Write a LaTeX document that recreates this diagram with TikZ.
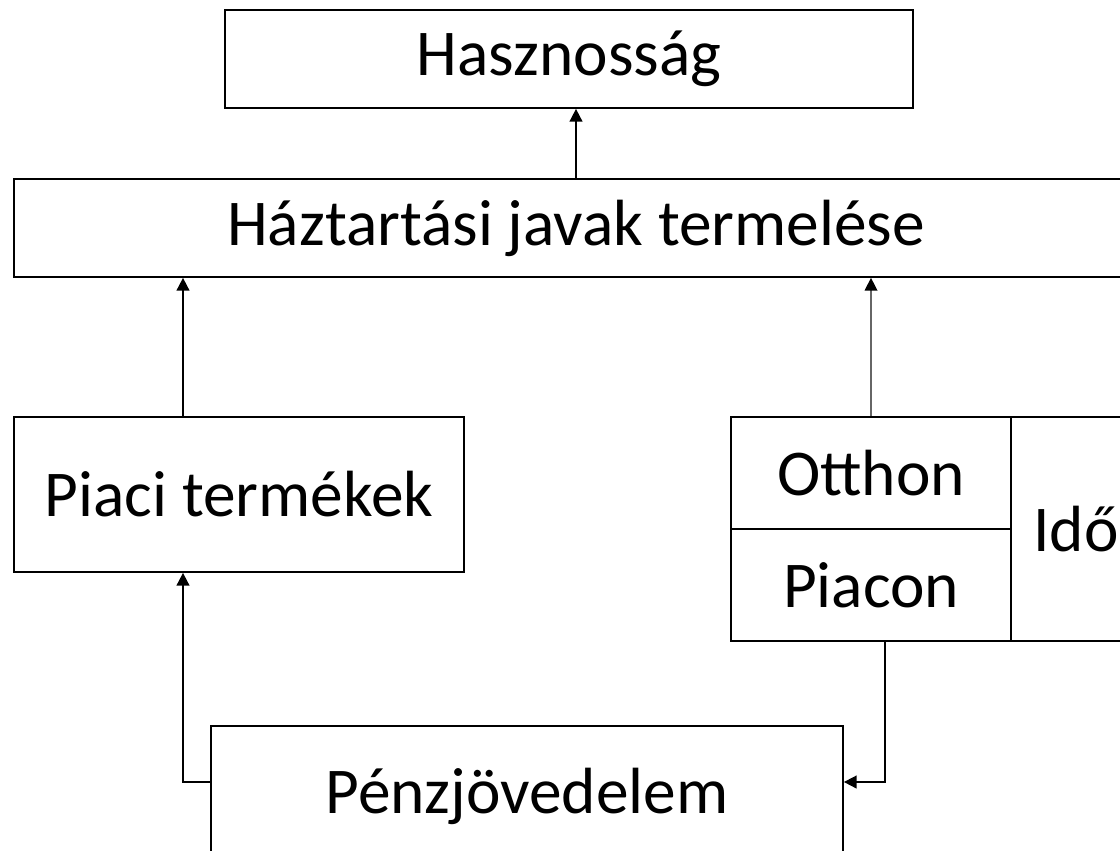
\documentclass[tikz,border=0pt]{standalone}
\usepackage{fontspec}
\setmainfont{Carlito}
\usetikzlibrary{arrows.meta,calc}
\begin{document}
\begin{tikzpicture}[x=0.75pt,y=-0.75pt,
  box/.style={draw=black, line width=1.3pt, inner sep=0pt, anchor=center,
    font=\fontsize{49}{56}\selectfont},
  arr/.style={line width=1.3pt, -{Triangle[width=9.5pt,length=9.5pt]}},
  garr/.style={draw=black!60, line width=1pt, -{Triangle[width=9.5pt,length=9.5pt,color=black]}}]
\useasboundingbox (0,0) rectangle (1120,850);
\clip (0,0) rectangle (1120,850);
\node[box, minimum width={688*0.75pt}, minimum height={98*0.75pt}] (hasz) at (569,59) {Hasznosság};
\node[box, minimum width={1124*0.75pt}, minimum height={98*0.75pt}] (hazt) at (576,228) {Háztartási javak termelése};
\node[box, minimum width={450*0.75pt}, minimum height={155*0.75pt}] (piaci) at (239,494.5) {Piaci termékek};
\node[box, minimum width={280*0.75pt}, minimum height={112*0.75pt}] (otthon) at (871,473) {Otthon};
\node[box, minimum width={280*0.75pt}, minimum height={112*0.75pt}] (piacon) at (871,585) {Piacon};
\node[box, minimum width={130*0.75pt}, minimum height={224*0.75pt}] (ido) at (1076,529) {Idő};
\node[box, minimum width={632*0.75pt}, minimum height={140*0.75pt}] (penz) at (527,796) {Pénzjövedelem};
\coordinate (pn) at ($(piaci.north)+(-56,0)$);
\coordinate (ps) at ($(piaci.south)+(-56,0)$);
\coordinate (pcs) at ($(piacon.south)+(14,0)$);
\coordinate (pze) at ($(penz.east)+(0,-14)$);
\coordinate (pzw) at ($(penz.west)+(0,-14)$);
\draw[arr] (hazt.north) -- (hazt.north |- hasz.south);
\draw[arr] (pn) -- (pn |- hazt.south);
\draw[garr] (otthon.north) -- (otthon.north |- hazt.south);
\draw[arr] (pcs) |- (pze);
\draw[arr] (pzw) -| (ps);
\end{tikzpicture}
\end{document}
